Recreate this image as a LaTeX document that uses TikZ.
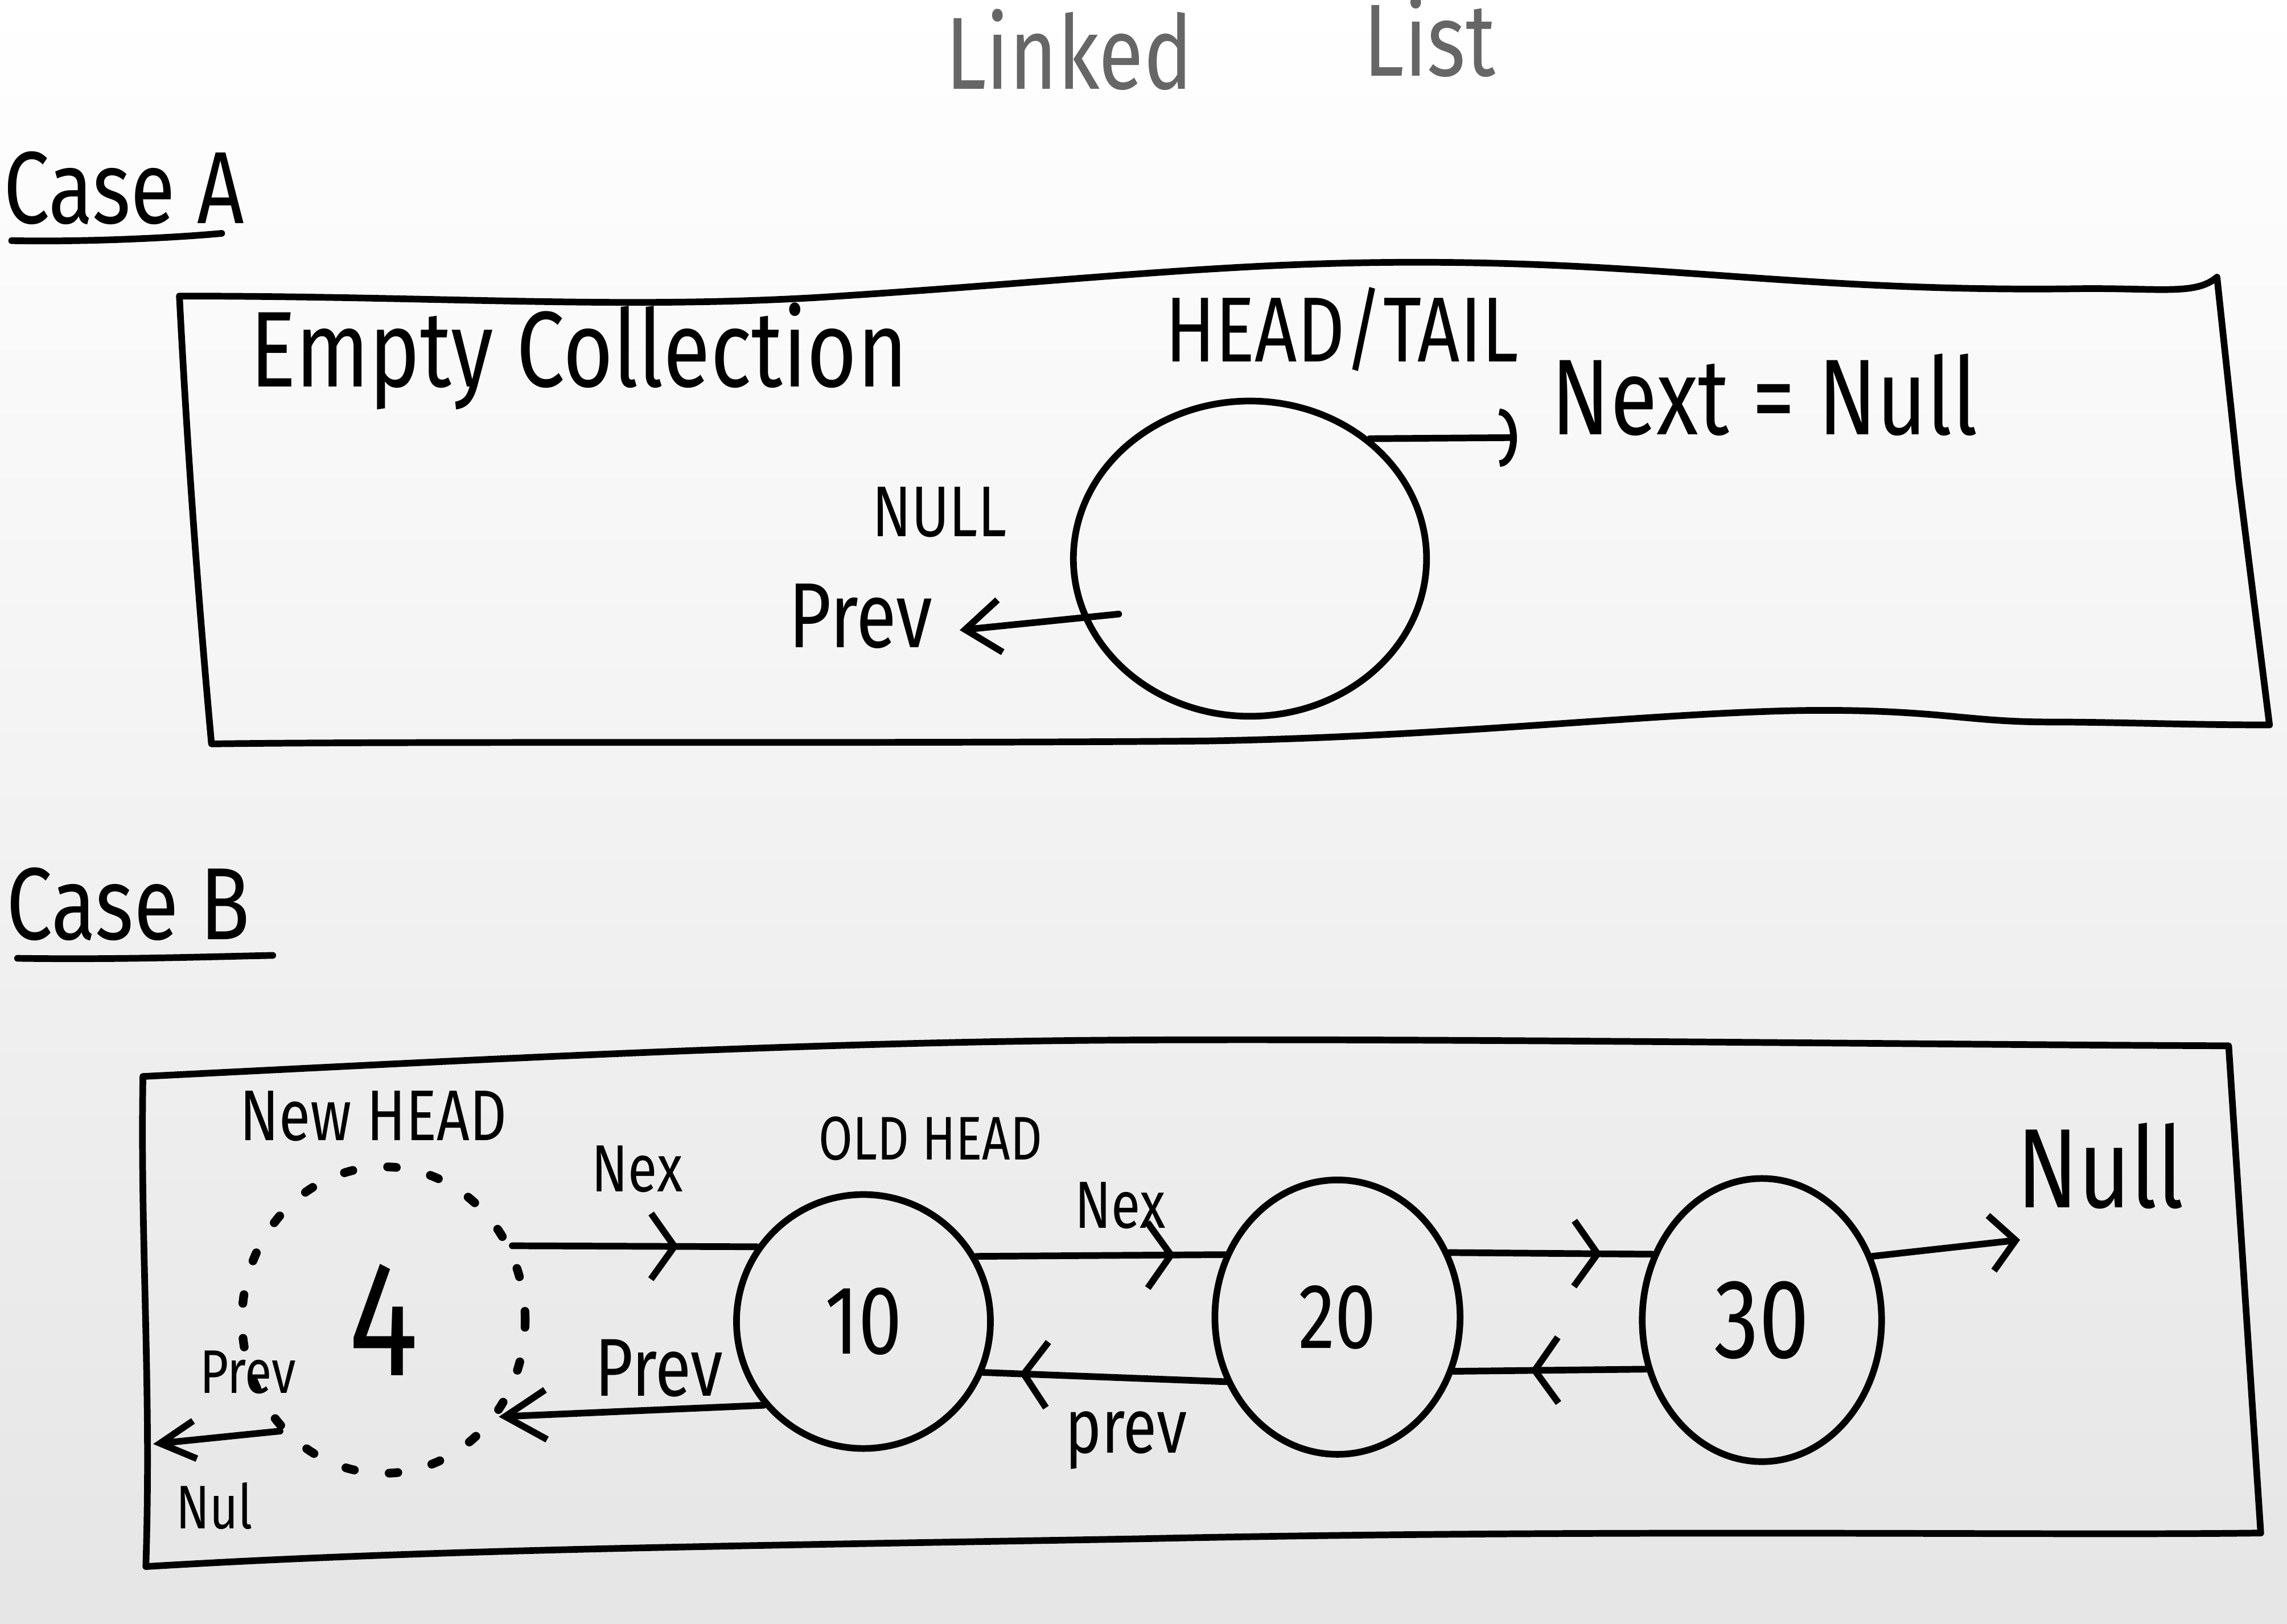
\documentclass[tikz,border=0pt]{standalone}
\usepackage{fontspec}
\setmainfont{Fira Sans}[FakeStretch=0.8]
\usetikzlibrary{arrows.meta,shapes.geometric,decorations.markings,calc}
\newcommand\hsz[1]{\fontsize{#1}{#1}\selectfont}
\begin{document}
\begin{tikzpicture}[x=0.01cm,y=-0.01cm,
  ink/.style={line width=1.3pt, line cap=round, line join=round},
  lbl/.style={inner sep=0pt, anchor=base},
  listnode/.style={ellipse, draw, ink, inner sep=0pt},
  dotnode/.style={ellipse, draw, line width=1.7pt, line cap=round, dash pattern=on 0.6mm off 2.4mm, inner sep=0pt},
  midchev/.style={postaction={decorate,decoration={markings,mark=at position #1 with {\arrow{Straight Barb[length=1.6mm,width=4.5mm]}}}}},
  barb/.style={-{Straight Barb[length=#1,width=3.6mm]}},
]
\useasboundingbox (0,0) rectangle (1568,1113);
\shade[top color=white, bottom color=black!10] (0,0) rectangle (1568,1113);

% title
\node[lbl, text=black!60, font=\hsz{20}] (title1) at (733,61) {Linked};
\node[lbl, text=black!60, font=\hsz{20}] (title2) at (980,52) {List};

% ---------- Case A ----------
\node[lbl, font=\hsz{20}] (caseA) at (85,153) {Case A};
\draw[ink] (8,165) .. controls (60,166) and (120,163) .. (152,160);

\draw[ink] (123,203) .. controls (300,203) and (420,212) .. (560,204)
  .. controls (750,192) and (850,178) .. (1000,180)
  .. controls (1150,182) and (1250,200) .. (1420,198)
  .. controls (1480,197) and (1505,203) .. (1520,190)
  -- (1535,330) -- (1556,497)
  .. controls (1500,497) and (1450,495) .. (1405,495)
  .. controls (1350,495) and (1330,487) .. (1250,487)
  .. controls (1150,487) and (1000,505) .. (827,508)
  .. controls (600,510) and (300,508) .. (145,510)
  .. controls (135,400) and (128,300) .. (123,203);

\node[lbl, font=\hsz{21}] (empty) at (397,265) {Empty Collection};
\node[lbl, font=\hsz{18}] (headtail) at (920,248) {HEAD/TAIL};
\node[listnode, minimum width=2.42cm, minimum height=2.16cm] (cA) at (857,383) {};
\coordinate (nullA) at (1040,300);
\draw[ink, -{Arc Barb[length=1.2mm,width=4mm]}] (cA.45) -- (nullA);
\node[lbl, font=\hsz{21}, anchor=base west] (nextnull) at (1063,298) {Next = Null};
\node[lbl, font=\hsz{14}] (nullAtxt) at (644,368) {NULL};
\coordinate (prevA) at (658,432);
\draw[ink, barb=2.4mm] ($(cA.center)+(-90,38)$) -- (prevA);
\node[lbl, font=\hsz{18}] (prevAtxt) at (590,444) {Prev};

% ---------- Case B ----------
\node[lbl, font=\hsz{20}] (caseB) at (88,644) {Case B};
\draw[ink] (12,657) .. controls (80,658) and (140,656) .. (187,655);

\draw[ink] (98,738) .. controls (300,728) and (550,714) .. (780,713)
  .. controls (1000,712) and (1300,716) .. (1528,717)
  -- (1550,1051)
  .. controls (1400,1053) and (1100,1048) .. (780,1055)
  .. controls (500,1060) and (300,1062) .. (100,1074)
  .. controls (104,950) and (96,850) .. (98,738);

\node[lbl, font=\hsz{14}] (newhead) at (256,782) {New HEAD};
\node[lbl, font=\hsz{12}] (oldhead) at (638,795) {OLD HEAD};

\node[dotnode, minimum width=1.94cm, minimum height=2.1cm, font=\hsz{32}] (c4) at (263,905) {4};
\node[listnode, minimum width=1.74cm, minimum height=1.74cm, font=\hsz{19}] (c10) at (592,906) {10};
\node[listnode, minimum width=1.68cm, minimum height=1.88cm, font=\hsz{18}] (c20) at (917,903) {20};
\node[listnode, minimum width=1.64cm, minimum height=1.94cm, font=\hsz{22}] (c30) at (1208,905) {30};

% next links
\draw[ink, midchev=0.68] (c4.30) -- (c10.145);
\draw[ink, midchev=0.8] (c10.30) -- (c20.151);
\draw[ink, midchev=0.75] (c20.30) -- (c30.149);
\coordinate (nullB) at (1385,850);
\draw[ink, -{Straight Barb[length=1.7mm,width=3.8mm]}] (c30.30) -- (nullB);

% prev links
\draw[ink, -{Straight Barb[length=2.8mm,width=3.4mm]}] (c10.220) -- (c4.-40);
\draw[ink, midchev=0.85] (c20.210) -- (c10.-23);
\draw[ink, midchev=0.6] (c30.203) -- (c20.-25);
\coordinate (nullL) at (105,990);
\draw[ink, -{Straight Barb[length=2.4mm,width=2.6mm]}] (c4.227) -- (nullL);

% labels
\node[lbl, font=\hsz{13}] (nex1) at (437,817) {Nex};
\node[lbl, font=\hsz{13}] (nex2) at (768,842) {Nex};
\node[lbl, font=\hsz{16}] (prev1) at (452,957) {Prev};
\node[lbl, font=\hsz{15}] (prev2) at (772,996) {prev};
\node[lbl, font=\hsz{22}] (nullBtxt) at (1440,828) {Null};
\node[lbl, font=\hsz{12}] (prev0) at (170,955) {Prev};
\node[lbl, font=\hsz{12}] (nul0) at (147,1048) {Nul};
\end{tikzpicture}
\end{document}
